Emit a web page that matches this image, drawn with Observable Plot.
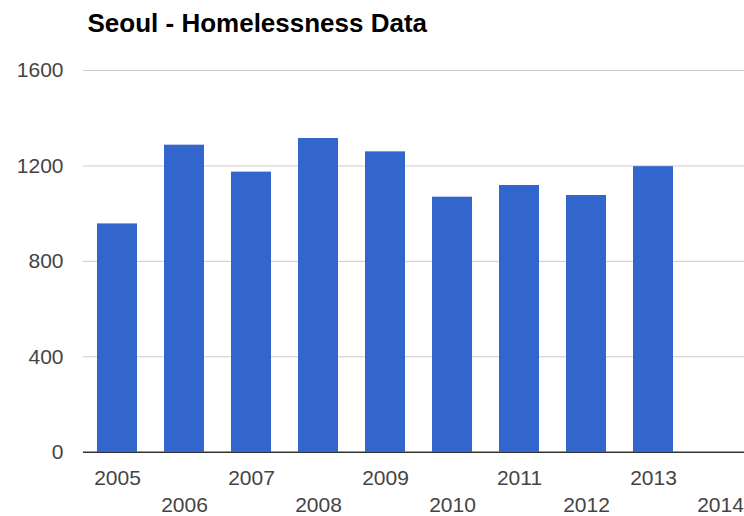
<!DOCTYPE html>
<html>
<head>
<meta charset="utf-8">
<script src="https://cdn.jsdelivr.net/npm/d3@7"></script>
<script src="https://cdn.jsdelivr.net/npm/@observablehq/plot@0.6"></script>
<style>
  html, body { margin: 0; padding: 0; background: #fff; }
  #chart svg { display: block; }
</style>
</head>
<body>
<div id="chart"></div>
<script>
const title = "Seoul - Homelessness Data";
const years = ["2005","2006","2007","2008","2009","2010","2011","2012","2013","2014"];
const barYears = ["2005","2006","2007","2008","2009","2010","2011","2012","2013"];
const counts = [957, 1287, 1174, 1315, 1259, 1069, 1118, 1076, 1197];
const yTicks = [0, 400, 800, 1200, 1600];

const bars = barYears.map((year, i) => ({year, count: counts[i]}));
const labelsTop = years.filter((_, i) => i % 2 === 0);
const labelsBottom = years.filter((_, i) => i % 2 === 1);
const font = "'Liberation Sans', Arial, sans-serif";

const chart = Plot.plot({
  width: 744,
  height: 516,
  marginLeft: 83,
  marginRight: 0,
  marginTop: 0,
  marginBottom: 0,
  style: {fontFamily: font, background: "#fff", overflow: "hidden"},
  x: {type: "band", domain: years, range: [83.3, 753.3], paddingInner: 0.4, paddingOuter: 0.2, axis: null},
  y: {domain: [0, 1600], range: [451.7, 70], axis: null},
  marks: [
    Plot.ruleY(yTicks.filter(d => d > 0), {stroke: "#cccccc", strokeWidth: 1}),
    Plot.barY(bars, {x: "year", y: "count", fill: "#3366cc"}),
    Plot.ruleY([0], {stroke: "#333333", strokeWidth: 1.5}),
    Plot.text(yTicks, {y: d => d, frameAnchor: "left", dx: -20, textAnchor: "end", text: d => String(d), fill: "#444444", fontSize: 21}),
    Plot.text(labelsTop, {x: d => d, y: () => 0, dy: 32.5, lineAnchor: "bottom", text: d => d, fill: "#444444", fontSize: 21}),
    Plot.text(labelsBottom, {x: d => d, y: () => 0, dy: 60, lineAnchor: "bottom", text: d => d, fill: "#444444", fontSize: 21}),
    Plot.text([title], {frameAnchor: "top-left", dx: 4, dy: 31.7, lineAnchor: "bottom", textAnchor: "start", text: d => d, fill: "#000000", fontSize: 26, fontWeight: "bold"})
  ]
});
document.getElementById("chart").append(chart);
</script>
</body>
</html>
